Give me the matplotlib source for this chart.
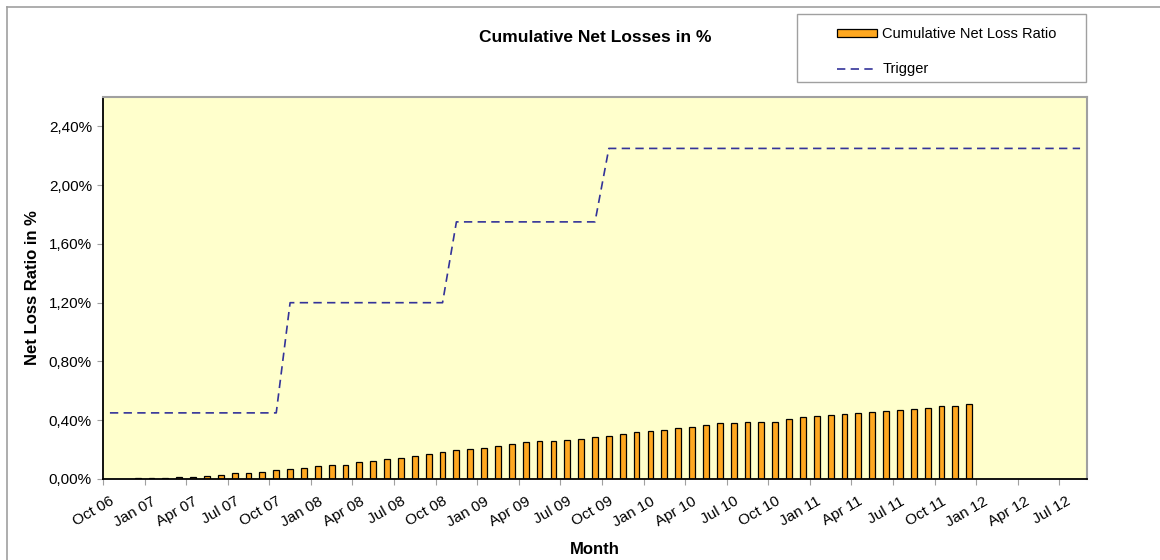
import numpy as np
import pandas as pd
import matplotlib
matplotlib.use("Agg")
import matplotlib.pyplot as plt
from matplotlib.lines import Line2D
from matplotlib.patches import Patch, Rectangle
from matplotlib.ticker import FuncFormatter

plt.rcParams['font.family'] = ['Liberation Sans', 'DejaVu Sans']

# monthly categories Oct 06 .. Aug 12
months = pd.date_range("2006-10-01", periods=71, freq="MS").strftime("%b %y").tolist()

# cumulative net loss ratio in % (reported up to Dec 11)
net_loss = [np.nan, np.nan, 0.005, 0.005, 0.007, 0.011, 0.016, 0.021, 0.027, 0.039,
            0.041, 0.050, 0.059, 0.066, 0.078, 0.087, 0.094, 0.098, 0.114, 0.123,
            0.137, 0.146, 0.156, 0.169, 0.185, 0.197, 0.204, 0.213, 0.226, 0.238,
            0.252, 0.258, 0.261, 0.265, 0.272, 0.284, 0.290, 0.304, 0.320, 0.329,
            0.332, 0.345, 0.355, 0.370, 0.380, 0.382, 0.386, 0.386, 0.391, 0.409,
            0.421, 0.428, 0.434, 0.441, 0.451, 0.457, 0.464, 0.471, 0.478, 0.485,
            0.494, 0.499, 0.508]

# trigger level in %
trigger = [0.45, 0.45, 0.45, 0.45, 0.45, 0.45, 0.45, 0.45, 0.45, 0.45,
           0.45, 0.45, 0.45, 1.20, 1.20, 1.20, 1.20, 1.20, 1.20, 1.20,
           1.20, 1.20, 1.20, 1.20, 1.20, 1.75, 1.75, 1.75, 1.75, 1.75,
           1.75, 1.75, 1.75, 1.75, 1.75, 1.75, 2.25, 2.25, 2.25, 2.25,
           2.25, 2.25, 2.25, 2.25, 2.25, 2.25, 2.25, 2.25, 2.25, 2.25,
           2.25, 2.25, 2.25, 2.25, 2.25, 2.25, 2.25, 2.25, 2.25, 2.25,
           2.25, 2.25, 2.25, 2.25, 2.25, 2.25, 2.25, 2.25, 2.25, 2.25,
           2.25]

bar_color = '#FFA820'
line_color = '#333399'
grey = '#A0A0A0'

fig = plt.figure(figsize=(11.6, 5.6), dpi=100)
ax = fig.add_axes([103/1160, 1 - 479/560, (1087 - 103)/1160, (479 - 97)/560])
ax.set_facecolor('#FFFFCC')

x = np.arange(len(months))
ax.bar(x[:len(net_loss)], net_loss, width=0.42, color=bar_color,
       edgecolor='black', linewidth=0.9, zorder=2)
ax.plot(x, trigger, color=line_color, linewidth=1.2, linestyle=(0, (5, 3.2)), zorder=3)

ax.set_xlim(-0.5, len(months) - 0.5)
ax.set_ylim(0, 2.6)
ax.set_yticks(np.arange(0, 2.41, 0.4))
ax.yaxis.set_major_formatter(FuncFormatter(lambda v, p: f"{v:.2f}%".replace('.', ',')))
ax.tick_params(axis='y', direction='out', length=4, color=grey, labelsize=11, pad=4)

# tick marks between categories, labels on categories (every 3rd month)
lab_idx = np.arange(0, len(months), 3)
ax.set_xticks(lab_idx - 0.5)
ax.set_xticklabels([])
ax.set_xticks(lab_idx, minor=True)
ax.set_xticklabels([months[i] for i in lab_idx], minor=True, rotation=30,
                   ha='right', va='top', rotation_mode='anchor')
ax.tick_params(axis='x', which='major', direction='out', length=4, color=grey)
ax.tick_params(axis='x', which='minor', length=0, labelsize=11, pad=11)

for s in ['left', 'bottom']:
    ax.spines[s].set_color('black')
    ax.spines[s].set_linewidth(1.3)
for s in ['top', 'right']:
    ax.spines[s].set_color(grey)
    ax.spines[s].set_linewidth(1.5)

ax.set_xlabel('Month', fontsize=12, fontweight='bold', labelpad=9)
ax.set_ylabel('Net Loss Ratio in %', fontsize=12, fontweight='bold', labelpad=6)
fig.text(595/1160, 1 - 37/560, 'Cumulative Net Losses in %', fontsize=12.5,
         fontweight='bold', ha='center', va='center')

# legend box
fig.patches.append(Rectangle((797/1160, 1 - 82/560), (1086 - 797)/1160, (82 - 14)/560,
                             transform=fig.transFigure, facecolor='white',
                             edgecolor=grey, linewidth=1))
handles = [Patch(facecolor=bar_color, edgecolor='black', linewidth=0.9),
           Line2D([0], [0], color=line_color, linewidth=1.2, linestyle=(0, (5, 3.2)))]
fig.legend(handles, ['Cumulative Net Loss Ratio', 'Trigger'],
           loc='upper left', bbox_to_anchor=(837/1160, 1 - 27/560),
           frameon=False, fontsize=10.5, handlelength=2.75, handleheight=0.42,
           handletextpad=0.35, labelspacing=1.45, borderaxespad=0, borderpad=0)

# outer chart border
fig.add_artist(Line2D([7/1160, 1], [1 - 7/560, 1 - 7/560], transform=fig.transFigure,
                      color=grey, linewidth=1.2))
fig.add_artist(Line2D([7/1160, 7/1160], [0, 1 - 7/560], transform=fig.transFigure,
                      color=grey, linewidth=1.2))

fig.savefig('out.png', dpi=100)
